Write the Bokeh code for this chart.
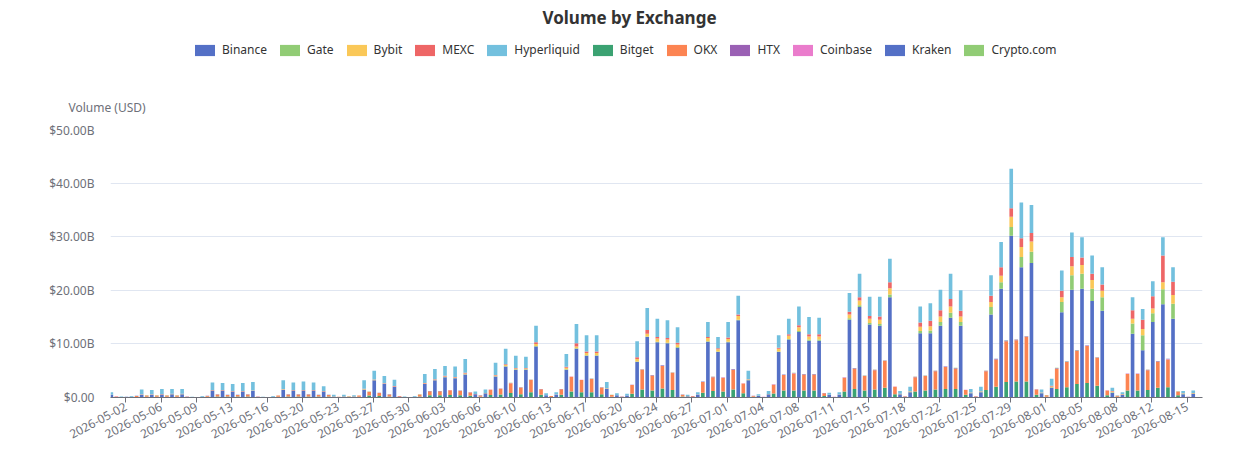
import math
import pandas as pd
from bokeh.plotting import figure
from bokeh.layouts import column
from bokeh.models import (ColumnDataSource, Range1d, FixedTicker, DatetimeTickFormatter,
                          CustomJSTickFormatter, Legend, LegendItem, Label)
from bokeh.embed import file_html
from bokeh.resources import INLINE

# ---------------- data (billions USD), one value per day from 2026-05-01 ----------------
START_DATE = "2026-05-01"
TITLE = "Volume by Exchange"
Y_NAME = "Volume (USD)"

binance = [0.45, 0.1, 0.15,
           0.5, 0.5, 0.55, 0.6, 0.6, 0.08, 0.15,
           1.3, 1.3, 1.1, 1.1, 1.2, 0.08, 0.15,
           1.4, 1.3, 1.3, 1.3, 1.1, 0.2, 0.2,
           0.2, 1.5, 3.2, 2.5, 2.0, 0.1, 0.15,
           2.5, 3.2, 3.8, 3.6, 4.3, 0.6, 0.8,
           3.9, 5.8, 5.2, 5.2, 9.5, 0.4, 0.5,
           5.2, 9.1, 7.8, 7.8, 1.6, 0.4, 0.35,
           6.6, 11.3, 10.3, 10.1, 9.3, 0.25, 0.5,
           10.4, 8.5, 10.3, 14.4, 3.2, 0.3, 0.6,
           8.5, 10.8, 12.2, 10.6, 10.6, 0.45, 0.5,
           14.5, 16.9, 13.6, 13.4, 18.7, 0.6, 1.0,
           12.0, 12.0, 13.4, 14.9, 13.4, 0.8, 1.0,
           15.5, 20.3, 30.2, 24.3, 25.1, 0.8, 1.8,
           15.9, 20.1, 20.3, 18.0, 16.2, 0.9, 0.5,
           11.9, 8.8, 14.1, 17.4, 14.7, 0.6, 0.65]

gate = [0, 0, 0,
        0, 0, 0, 0, 0, 0, 0,
        0, 0, 0, 0, 0, 0, 0,
        0, 0, 0, 0, 0, 0, 0,
        0, 0, 0, 0, 0, 0, 0,
        0.02, 0.02, 0.02, 0.02, 0.03, 0, 0,
        0.05, 0.05, 0.05, 0.05, 0.1, 0, 0.01,
        0.05, 0.1, 0.1, 0.1, 0.02, 0, 0,
        0.1, 0.1, 0.1, 0.1, 0.1, 0, 0.01,
        0.1, 0.1, 0.1, 0.1, 0.05, 0, 0.01,
        0.1, 0.1, 0.2, 0.2, 0.2, 0.01, 0.01,
        0.3, 0.3, 0.3, 0.3, 0.5, 0.02, 0.05,
        0.4, 0.5, 0.7, 0.9, 0.7, 0.05, 0.05,
        1.4, 1.2, 1.6, 1.9, 2.1, 0.05, 0.1,
        1.9, 2.7, 2.8, 2.3, 2.5, 0.1, 0.05,
        1.9, 2.8, 1.6, 2.8, 2.8, 0.1, 0.1]

bybit = [0.03, 0, 0,
         0.05, 0.05, 0.05, 0.05, 0.05, 0, 0,
         0.06, 0.06, 0.05, 0.06, 0.06, 0, 0,
         0.07, 0.06, 0.06, 0.06, 0.05, 0.01, 0.01,
         0.01, 0.07, 0.1, 0.08, 0.07, 0, 0,
         0.1, 0.1, 0.12, 0.12, 0.15, 0.02, 0.03,
         0.15, 0.2, 0.15, 0.15, 0.4, 0.02, 0.02,
         0.3, 0.3, 0.4, 0.4, 0.05, 0.01, 0.01,
         0.5, 0.5, 0.6, 0.6, 0.5, 0.01, 0.02,
         0.6, 0.4, 0.5, 0.7, 0.1, 0.01, 0.02,
         0.5, 0.6, 0.7, 0.6, 0.6, 0.02, 0.02,
         0.7, 0.9, 0.8, 0.8, 1.2, 0.03, 0.05,
         0.8, 0.8, 1.0, 1.2, 1.0, 0.05, 0.05,
         0.9, 1.2, 1.9, 1.9, 1.9, 0.05, 0.15,
         0.9, 1.7, 1.6, 1.6, 1.2, 0.1, 0.05,
         0.9, 1.2, 0.9, 1.3, 1.6, 0.05, 0.05]

mexc = [0.02, 0, 0,
        0.05, 0.04, 0.05, 0.05, 0.05, 0, 0,
        0.05, 0.05, 0.05, 0.05, 0.05, 0, 0,
        0.06, 0.05, 0.05, 0.05, 0.04, 0.01, 0.01,
        0.01, 0.06, 0.08, 0.07, 0.06, 0, 0,
        0.08, 0.08, 0.1, 0.1, 0.12, 0.02, 0.02,
        0.1, 0.15, 0.1, 0.1, 0.3, 0.01, 0.01,
        0.2, 0.6, 0.3, 0.3, 0.05, 0.01, 0.01,
        0.3, 0.7, 0.3, 0.3, 0.3, 0.01, 0.01,
        0.2, 0.2, 0.3, 0.3, 0.05, 0.01, 0.02,
        0.2, 0.3, 0.4, 0.4, 0.4, 0.02, 0.02,
        0.5, 0.6, 0.5, 0.6, 1.1, 0.03, 0.05,
        0.8, 1.0, 1.2, 1.4, 1.1, 0.05, 0.05,
        1.2, 1.6, 1.6, 1.6, 1.6, 0.05, 0.15,
        1.2, 1.7, 1.4, 1.2, 1.2, 0.1, 0.05,
        1.6, 1.7, 2.3, 5.0, 2.5, 0.05, 0.05]

hyperliquid = [0.5, 0.1, 0.15,
               0.9, 0.81, 0.95, 0.9, 0.9, 0.07, 0.15,
               1.39, 1.29, 1.3, 1.49, 1.59, 0.07, 0.15,
               1.67, 1.39, 1.59, 1.39, 0.91, 0.28, 0.28,
               0.18, 1.57, 1.62, 1.35, 1.17, 0.1, 0.15,
               1.7, 1.9, 1.86, 1.96, 2.6, 0.46, 0.65,
               2.3, 2.9, 2.3, 2.1, 3.1, 0.37, 0.46,
               2.35, 3.6, 3.0, 3.0, 1.18, 0.38, 0.33,
               3.0, 4.1, 3.4, 3.3, 2.9, 0.23, 0.46,
               2.8, 2.1, 2.9, 3.5, 1.6, 0.28, 0.55,
               2.3, 2.9, 3.5, 3.2, 3.1, 0.4, 0.45,
               3.5, 4.4, 3.6, 3.7, 4.4, 0.52, 0.85,
               3.0, 3.3, 3.8, 4.7, 3.8, 0.65, 0.85,
               3.8, 4.7, 7.4, 6.7, 5.2, 0.55, 1.3,
               3.8, 4.6, 3.8, 3.4, 3.2, 0.6, 0.35,
               2.4, 2.0, 2.8, 3.4, 2.7, 0.4, 0.45]

bitget = [0.08, 0.04, 0.1,
          0.14, 0.14, 0.14, 0.14, 0.07, 0.03, 0.12,
          0.2, 0.17, 0.17, 0.2, 0.07, 0.03, 0.14,
          0.2, 0.2, 0.2, 0.17, 0.17, 0.05, 0.07,
          0.13, 0.35, 0.3, 0.2, 0.1, 0.03, 0.2,
          0.4, 0.4, 0.45, 0.42, 0.33, 0.13, 0.45,
          0.55, 0.85, 0.6, 1.0, 0.5, 0.1, 0.5,
          1.1, 1.0, 1.0, 0.6, 0.15, 0.06, 0.7,
          1.5, 1.3, 1.7, 1.4, 0.2, 0.1, 0.9,
          1.2, 1.1, 1.5, 0.8, 0.12, 0.06, 0.75,
          1.3, 1.3, 1.3, 1.3, 0.3, 0.06, 1.1,
          1.6, 1.3, 1.5, 1.8, 0.6, 0.1, 1.1,
          1.3, 1.5, 1.6, 1.6, 0.5, 0.1, 1.4,
          2.0, 2.9, 3.0, 3.0, 0.5, 0.15, 1.6,
          1.9, 2.5, 2.7, 2.2, 0.4, 0.12, 1.3,
          1.3, 1.4, 1.8, 1.9, 0.4, 0.06, 0.03]

okx = [0.1, 0.05, 0.18,
       0.21, 0.21, 0.21, 0.21, 0.08, 0.02, 0.18,
       0.35, 0.28, 0.28, 0.35, 0.08, 0.02, 0.21,
       0.35, 0.35, 0.35, 0.28, 0.28, 0.07, 0.1,
       0.22, 0.7, 0.55, 0.35, 0.15, 0.04, 0.35,
       0.75, 0.75, 0.9, 0.83, 0.62, 0.24, 1.0,
       1.1, 1.8, 1.25, 2.25, 1.05, 0.17, 1.05,
       2.75, 2.25, 2.45, 1.25, 0.3, 0.1, 1.65,
       3.7, 2.8, 4.2, 3.2, 0.3, 0.15, 2.0,
       2.6, 2.6, 3.7, 1.8, 0.18, 0.04, 1.65,
       2.9, 3.2, 3.0, 3.0, 0.5, 0.04, 2.6,
       3.8, 2.7, 3.6, 5.0, 1.4, 0.1, 2.7,
       2.7, 3.4, 4.1, 3.8, 0.9, 0.1, 3.5,
       5.1, 7.6, 7.7, 8.3, 1.0, 0.25, 3.8,
       4.7, 6.2, 6.9, 5.2, 0.9, 0.18, 3.1,
       3.1, 3.7, 4.9, 5.2, 0.7, 0.04, 0.0]

htx = [0.02, 0.01, 0.01,
       0.02, 0.02, 0.02, 0.02, 0.02, 0.01, 0.01,
       0.02, 0.02, 0.02, 0.02, 0.02, 0.01, 0.01,
       0.02, 0.02, 0.02, 0.02, 0.02, 0.01, 0.01,
       0.01, 0.02, 0.02, 0.02, 0.02, 0.01, 0.01,
       0.02, 0.02, 0.02, 0.02, 0.02, 0.01, 0.01,
       0.02, 0.03, 0.02, 0.03, 0.02, 0.01, 0.02,
       0.03, 0.03, 0.03, 0.02, 0.01, 0.01, 0.02,
       0.04, 0.04, 0.05, 0.04, 0.02, 0.01, 0.03,
       0.04, 0.04, 0.05, 0.03, 0.01, 0.01, 0.03,
       0.04, 0.04, 0.04, 0.04, 0.02, 0.01, 0.04,
       0.05, 0.04, 0.05, 0.05, 0.02, 0.01, 0.04,
       0.04, 0.05, 0.05, 0.05, 0.02, 0.01, 0.05,
       0.06, 0.07, 0.07, 0.07, 0.02, 0.02, 0.05,
       0.06, 0.06, 0.07, 0.06, 0.02, 0.02, 0.04,
       0.04, 0.05, 0.05, 0.05, 0.02, 0.02, 0.02]

coinbase = [0.01, 0.01, 0.01,
            0.01, 0.01, 0.01, 0.01, 0.01, 0.01, 0.01,
            0.01, 0.01, 0.01, 0.01, 0.01, 0.01, 0.01,
            0.01, 0.01, 0.01, 0.01, 0.01, 0.01, 0.01,
            0.01, 0.01, 0.01, 0.01, 0.01, 0.01, 0.01,
            0.01, 0.01, 0.01, 0.01, 0.01, 0.01, 0.01,
            0.01, 0.02, 0.01, 0.02, 0.01, 0.01, 0.01,
            0.02, 0.02, 0.02, 0.01, 0.01, 0.01, 0.01,
            0.02, 0.02, 0.03, 0.02, 0.01, 0.01, 0.02,
            0.02, 0.02, 0.03, 0.02, 0.01, 0.01, 0.02,
            0.02, 0.02, 0.02, 0.02, 0.01, 0.01, 0.02,
            0.03, 0.02, 0.03, 0.03, 0.01, 0.01, 0.02,
            0.02, 0.03, 0.03, 0.03, 0.01, 0.01, 0.03,
            0.03, 0.04, 0.04, 0.04, 0.01, 0.01, 0.03,
            0.03, 0.03, 0.04, 0.03, 0.01, 0.01, 0.02,
            0.02, 0.03, 0.03, 0.03, 0.01, 0.01, 0.01]

kraken = [0.01, 0.01, 0.01,
          0.01, 0.01, 0.01, 0.01, 0.01, 0.01, 0.01,
          0.01, 0.01, 0.01, 0.01, 0.01, 0.01, 0.01,
          0.01, 0.01, 0.01, 0.01, 0.01, 0.01, 0.01,
          0.01, 0.01, 0.01, 0.01, 0.01, 0.01, 0.01,
          0.01, 0.01, 0.01, 0.01, 0.01, 0.01, 0.01,
          0.01, 0.02, 0.01, 0.02, 0.01, 0.01, 0.01,
          0.02, 0.02, 0.02, 0.01, 0.01, 0.01, 0.01,
          0.02, 0.02, 0.02, 0.02, 0.01, 0.01, 0.02,
          0.02, 0.02, 0.02, 0.02, 0.01, 0.01, 0.02,
          0.02, 0.02, 0.02, 0.02, 0.01, 0.01, 0.02,
          0.02, 0.02, 0.02, 0.03, 0.01, 0.01, 0.02,
          0.02, 0.02, 0.03, 0.03, 0.01, 0.01, 0.03,
          0.03, 0.03, 0.03, 0.03, 0.01, 0.01, 0.03,
          0.03, 0.03, 0.03, 0.03, 0.01, 0.01, 0.02,
          0.02, 0.02, 0.03, 0.03, 0.01, 0.01, 0.01]

crypto_com = [0.01, 0.0, 0.01,
              0.01, 0.01, 0.01, 0.01, 0.01, 0.0, 0.01,
              0.01, 0.01, 0.01, 0.01, 0.01, 0.0, 0.01,
              0.01, 0.01, 0.01, 0.01, 0.01, 0.0, 0.01,
              0.0, 0.01, 0.01, 0.01, 0.01, 0.0, 0.01,
              0.01, 0.01, 0.01, 0.01, 0.01, 0.0, 0.01,
              0.01, 0.01, 0.01, 0.02, 0.01, 0.0, 0.01,
              0.02, 0.01, 0.02, 0.01, 0.01, 0.0, 0.01,
              0.02, 0.02, 0.02, 0.02, 0.01, 0.0, 0.02,
              0.02, 0.02, 0.02, 0.01, 0.01, 0.0, 0.02,
              0.02, 0.02, 0.02, 0.02, 0.01, 0.0, 0.02,
              0.02, 0.02, 0.02, 0.02, 0.01, 0.0, 0.02,
              0.02, 0.02, 0.02, 0.02, 0.01, 0.0, 0.02,
              0.03, 0.03, 0.03, 0.03, 0.01, 0.01, 0.02,
              0.03, 0.03, 0.03, 0.03, 0.01, 0.01, 0.02,
              0.02, 0.02, 0.02, 0.02, 0.01, 0.0, 0.01]

stack_a_names = ["Binance", "Gate", "Bybit", "MEXC", "Hyperliquid"]
stack_b_names = ["Bitget", "OKX", "HTX", "Coinbase", "Kraken", "Crypto.com"]
y_ticks = [0, 10, 20, 30, 40, 50]

# ---------------- styling ----------------
COL_A = ["#5470c6", "#91cc75", "#fac858", "#ee6666", "#73c0de"]
COL_B = ["#3ba272", "#fc8452", "#9a60b4", "#ea7ccc", "#5470c6", "#91cc75"]
FONT = "Noto Sans"
AXIS_TXT = "#6e7079"
W = 1236
HEAD_H = 121

series = dict(Binance=binance, Gate=gate, Bybit=bybit, MEXC=mexc, Hyperliquid=hyperliquid,
              Bitget=bitget, OKX=okx, HTX=htx, Coinbase=coinbase, Kraken=kraken,
              **{"Crypto.com": crypto_com})

dates = pd.date_range(START_DATE, periods=len(binance), freq="D")
src = ColumnDataSource(dict(xa=dates + pd.Timedelta(hours=2),
                            xb=dates + pd.Timedelta(hours=14), **series))

# ---------------- header: title, legend, axis name (pixel-like coordinates) ----------------
head = figure(width=W, height=HEAD_H, x_range=Range1d(0, W), y_range=Range1d(HEAD_H, 0),
              output_backend="svg", toolbar_location=None, title=None,
              x_axis_location=None, y_axis_location=None, frame_align=False,
              min_border_left=0, min_border_right=0, min_border_top=0, min_border_bottom=0)
head.outline_line_color = None
head.xgrid.grid_line_color = None
head.ygrid.grid_line_color = None
# legend swatches: zero-height bars outside the visible range, same colours as the chart
head_src = ColumnDataSource({"x": [-1000], **{k: [0] for k in series}})
ha = head.vbar_stack(stack_a_names, x="x", width=1, source=head_src,
                     fill_color=COL_A, line_color=None)
hb = head.vbar_stack(stack_b_names, x="x", width=1, source=head_src,
                     fill_color=COL_B, line_color=None)
items = [LegendItem(label=n, renderers=[r], index=0) for n, r in zip(stack_a_names, ha)]
items += [LegendItem(label=n, renderers=[r], index=0) for n, r in zip(stack_b_names, hb)]
legend = Legend(items=items, orientation="horizontal", location=(192, HEAD_H - 58),
                glyph_width=25, glyph_height=14, label_standoff=5, spacing=10,
                padding=0, margin=0, border_line_alpha=0, background_fill_alpha=0,
                label_text_font=FONT, label_text_font_size="12px", label_text_color="#333333")
head.add_layout(legend, "center")
head.add_layout(Label(x=629, y=17, text=TITLE, text_align="center", text_baseline="middle",
                      text_font=FONT, text_font_size="17px", text_font_style="bold",
                      text_color="#333333"))
head.add_layout(Label(x=68, y=107, text=Y_NAME, text_align="left", text_baseline="middle",
                      text_font=FONT, text_font_size="12px", text_color=AXIS_TXT))

# ---------------- main chart ----------------
x_start = dates[0].to_pydatetime()
x_end = (dates[-1] + pd.Timedelta(days=1)).to_pydatetime()

p = figure(width=W, height=452 - HEAD_H, x_axis_type="datetime",
           x_range=Range1d(x_start, x_end), y_range=Range1d(0, 50),
           output_backend="svg", toolbar_location=None, title=None, frame_align=False,
           min_border_left=110, min_border_right=34, min_border_top=8, min_border_bottom=55)
p.outline_line_color = None

bar_w = 0.36 * 86400000
p.vbar_stack(stack_a_names, x="xa", width=bar_w, source=src, fill_color=COL_A, line_color=None)
p.vbar_stack(stack_b_names, x="xb", width=bar_w, source=src, fill_color=COL_B, line_color=None)

# x axis
tick_times = pd.date_range(dates[1] + pd.Timedelta(hours=12), dates[-1], freq="84h")
p.xaxis.ticker = FixedTicker(ticks=[t.value / 1e6 for t in tick_times])
fmt = "%Y-%m-%d"
p.xaxis.formatter = DatetimeTickFormatter(days=fmt, hours=fmt, hourmin=fmt, minutes=fmt,
                                          minsec=fmt, seconds=fmt, months=fmt, years=fmt)
p.xaxis.major_label_orientation = math.radians(28)
p.xaxis.axis_line_color = AXIS_TXT
p.xaxis.major_tick_line_color = AXIS_TXT
p.xaxis.major_tick_out = 5
p.xaxis.major_tick_in = 0
p.xaxis.minor_tick_line_color = None
p.xaxis.major_label_text_color = AXIS_TXT
p.xaxis.major_label_text_font = FONT
p.xaxis.major_label_text_font_size = "12px"
p.xaxis.major_label_standoff = 3
p.xgrid.grid_line_color = None

# y axis
p.yaxis.ticker = FixedTicker(ticks=y_ticks)
p.yaxis.formatter = CustomJSTickFormatter(
    code="return tick === 0 ? '$0.00' : '$' + tick.toFixed(2) + 'B';")
p.yaxis.axis_line_color = None
p.yaxis.major_tick_line_color = None
p.yaxis.minor_tick_line_color = None
p.yaxis.major_label_text_color = AXIS_TXT
p.yaxis.major_label_text_font = FONT
p.yaxis.major_label_text_font_size = "12px"
p.yaxis.major_label_standoff = 10
p.ygrid.grid_line_color = "#e0e6f1"

layout = column(head, p, spacing=0)
open("out.html", "w").write(file_html(layout, INLINE))
